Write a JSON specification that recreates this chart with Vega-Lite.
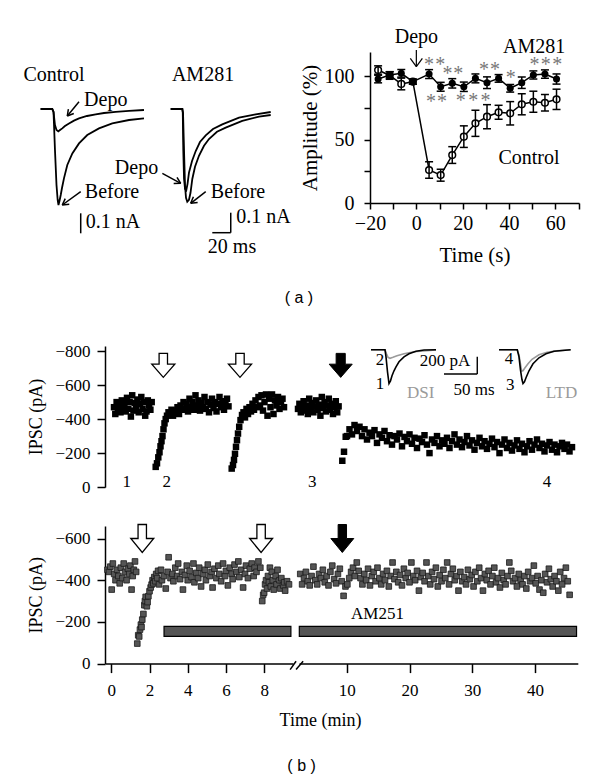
{
"$schema": "https://vega.github.io/schema/vega-lite/v6.json",
"background": "white",
"padding": {"left": 23, "top": 27, "right": 5, "bottom": 5},
"config": {
  "view": {"stroke": null},
  "font": "Liberation Serif",
  "axis": {"grid": false, "domainColor": "black", "tickColor": "black", "labelColor": "black", "titleColor": "black", "domainWidth": 1.5, "tickWidth": 1.5, "labelFont": "Liberation Serif", "titleFont": "Liberation Serif", "titleFontWeight": "normal", "labelFlush": false, "labelOverlap": false}
},
"title": {"text": "( b )", "orient": "bottom", "anchor": "middle", "font": "Liberation Sans", "fontSize": 16, "fontWeight": "normal", "offset": 28, "color": "black"},
"datasets": {
  "amp": [
    {"t":-16.5,"cond":"Control","amp":104.8,"lo":101.5,"hi":108.1},
    {"t":-11.5,"cond":"Control","amp":100.5,"lo":97.5,"hi":103.5},
    {"t":-6.5,"cond":"Control","amp":93.8,"lo":89.2,"hi":98.4},
    {"t":-1.5,"cond":"Control","amp":95.6,"lo":93.6,"hi":97.6},
    {"t":5.5,"cond":"Control","amp":26,"lo":19.5,"hi":32.5},
    {"t":10.5,"cond":"Control","amp":22,"lo":17.2,"hi":26.6},
    {"t":15.5,"cond":"Control","amp":37.8,"lo":31.2,"hi":44.4},
    {"t":20.5,"cond":"Control","amp":52.3,"lo":43.8,"hi":60.8},
    {"t":25.5,"cond":"Control","amp":62.8,"lo":52.5,"hi":73.1},
    {"t":30.5,"cond":"Control","amp":68,"lo":58.5,"hi":77.5},
    {"t":35.5,"cond":"Control","amp":71.5,"lo":66,"hi":77},
    {"t":40.5,"cond":"Control","amp":70.7,"lo":61.5,"hi":79.9},
    {"t":45.5,"cond":"Control","amp":77.8,"lo":69.5,"hi":86.1},
    {"t":50.5,"cond":"Control","amp":79.8,"lo":71.5,"hi":88.1},
    {"t":55.5,"cond":"Control","amp":79,"lo":72.5,"hi":85.5},
    {"t":60.5,"cond":"Control","amp":81.7,"lo":73.7,"hi":89.7},
    {"t":-16.5,"cond":"AM281","amp":97.7,"lo":94.7,"hi":100.7},
    {"t":-11.5,"cond":"AM281","amp":100.9,"lo":98.4,"hi":103.4},
    {"t":-6.5,"cond":"AM281","amp":102.2,"lo":99.2,"hi":105.2},
    {"t":-1.5,"cond":"AM281","amp":95.6,"lo":93.6,"hi":97.6},
    {"t":5.5,"cond":"AM281","amp":101.6,"lo":98.1,"hi":105.1},
    {"t":10.5,"cond":"AM281","amp":91.6,"lo":88.1,"hi":95.1},
    {"t":15.5,"cond":"AM281","amp":94.3,"lo":90.6,"hi":98},
    {"t":20.5,"cond":"AM281","amp":91.6,"lo":87.9,"hi":95.3},
    {"t":25.5,"cond":"AM281","amp":98.2,"lo":94.7,"hi":101.7},
    {"t":30.5,"cond":"AM281","amp":94.8,"lo":90.2,"hi":99.4},
    {"t":35.5,"cond":"AM281","amp":98.2,"lo":95.2,"hi":101.2},
    {"t":40.5,"cond":"AM281","amp":90.4,"lo":87.4,"hi":93.4},
    {"t":45.5,"cond":"AM281","amp":94.8,"lo":90.3,"hi":99.3},
    {"t":50.5,"cond":"AM281","amp":100.9,"lo":97.7,"hi":104.1},
    {"t":55.5,"cond":"AM281","amp":101.6,"lo":98.3,"hi":104.9},
    {"t":60.5,"cond":"AM281","amp":97.7,"lo":93.7,"hi":101.7}
  ],
  "stars": [
    {"t":5.5,"amp":111},{"t":10.3,"amp":111},{"t":13.4,"amp":104},{"t":18.1,"amp":104},
    {"t":29.2,"amp":107.4},{"t":34,"amp":107.4},{"t":40.7,"amp":101},
    {"t":51,"amp":111},{"t":55.8,"amp":111},{"t":60.8,"amp":111},
    {"t":6.3,"amp":82},{"t":11.1,"amp":82},{"t":19.2,"amp":83},{"t":24.6,"amp":83},{"t":29.9,"amp":83}
  ],
  "ampLabels": [
    {"t":50.8,"amp":123.2,"label":"AM281"},
    {"t":48.6,"amp":35.2,"label":"Control"},
    {"t":0,"amp":130.8,"label":"Depo"}
  ],
  "ampSegs": [
    {"t":0,"amp":120.6,"t2":0,"amp2":107.4},
    {"t":-2.6,"amp":114,"t2":0,"amp2":107.4},
    {"t":2.6,"amp":114,"t2":0,"amp2":107.4}
  ],
  "traces": [
    {"trace":"CB","ms":-12.6,"nA":0},{"trace":"CB","ms":0.3,"nA":0},{"trace":"CB","ms":1.7,"nA":-0.015},{"trace":"CB","ms":3.3,"nA":-0.205},{"trace":"CB","ms":5,"nA":-0.38},{"trace":"CB","ms":6.3,"nA":-0.455},{"trace":"CB","ms":7.2,"nA":-0.48},{"trace":"CB","ms":8.3,"nA":-0.46},{"trace":"CB","ms":9.7,"nA":-0.43},{"trace":"CB","ms":11.1,"nA":-0.395},{"trace":"CB","ms":13.3,"nA":-0.347},{"trace":"CB","ms":17,"nA":-0.28},{"trace":"CB","ms":22.6,"nA":-0.222},{"trace":"CB","ms":30,"nA":-0.172},{"trace":"CB","ms":39.2,"nA":-0.13},{"trace":"CB","ms":52.2,"nA":-0.097},{"trace":"CB","ms":67,"nA":-0.072},{"trace":"CB","ms":85.6,"nA":-0.055},{"trace":"CB","ms":102.2,"nA":-0.047},
    {"trace":"CD","ms":-12.6,"nA":0},{"trace":"CD","ms":0.3,"nA":0},{"trace":"CD","ms":1.7,"nA":-0.015},{"trace":"CD","ms":3.3,"nA":-0.08},{"trace":"CD","ms":5,"nA":-0.105},{"trace":"CD","ms":7,"nA":-0.112},{"trace":"CD","ms":8.9,"nA":-0.105},{"trace":"CD","ms":11.4,"nA":-0.097},{"trace":"CD","ms":14.4,"nA":-0.085},{"trace":"CD","ms":18.9,"nA":-0.072},{"trace":"CD","ms":24.4,"nA":-0.058},{"trace":"CD","ms":30,"nA":-0.047},{"trace":"CD","ms":38.9,"nA":-0.035},{"trace":"CD","ms":48.6,"nA":-0.027},{"trace":"CD","ms":57.8,"nA":-0.02},{"trace":"CD","ms":70.8,"nA":-0.014},{"trace":"CD","ms":85.6,"nA":-0.009},{"trace":"CD","ms":102.2,"nA":-0.005},
    {"trace":"AB","ms":131.9,"nA":0},{"trace":"AB","ms":144.8,"nA":0},{"trace":"AB","ms":145.6,"nA":-0.019},{"trace":"AB","ms":146.7,"nA":-0.209},{"trace":"AB","ms":147.8,"nA":-0.384},{"trace":"AB","ms":148.9,"nA":-0.444},{"trace":"AB","ms":150.3,"nA":-0.464},{"trace":"AB","ms":152.2,"nA":-0.454},{"trace":"AB","ms":153.9,"nA":-0.419},{"trace":"AB","ms":155.9,"nA":-0.35},{"trace":"AB","ms":158.9,"nA":-0.289},{"trace":"AB","ms":163.3,"nA":-0.234},{"trace":"AB","ms":168.9,"nA":-0.184},{"trace":"AB","ms":174.4,"nA":-0.15},{"trace":"AB","ms":183.3,"nA":-0.114},{"trace":"AB","ms":193,"nA":-0.093},{"trace":"AB","ms":211.4,"nA":-0.059},{"trace":"AB","ms":230,"nA":-0.038},{"trace":"AB","ms":243,"nA":-0.03},
    {"trace":"AD","ms":131.9,"nA":0},{"trace":"AD","ms":144.8,"nA":0},{"trace":"AD","ms":145.3,"nA":-0.019},{"trace":"AD","ms":145.9,"nA":-0.209},{"trace":"AD","ms":146.7,"nA":-0.349},{"trace":"AD","ms":147.8,"nA":-0.399},{"trace":"AD","ms":149.2,"nA":-0.406},{"trace":"AD","ms":150.6,"nA":-0.374},{"trace":"AD","ms":152.2,"nA":-0.318},{"trace":"AD","ms":155.6,"nA":-0.26},{"trace":"AD","ms":159.7,"nA":-0.21},{"trace":"AD","ms":164.4,"nA":-0.165},{"trace":"AD","ms":170.8,"nA":-0.132},{"trace":"AD","ms":178.9,"nA":-0.1},{"trace":"AD","ms":189.2,"nA":-0.077},{"trace":"AD","ms":207.8,"nA":-0.043},{"trace":"AD","ms":226.3,"nA":-0.027},{"trace":"AD","ms":243,"nA":-0.015}
  ],
  "traceSegs": [
    {"ms":30,"nA":0.0365,"ms2":17,"nA2":-0.035},{"ms":24.2,"nA":-0.0225,"ms2":17,"nA2":-0.035},{"ms":18.2,"nA":-0.0005,"ms2":17,"nA2":-0.035},
    {"ms":31.9,"nA":-0.4135,"ms2":11.4,"nA2":-0.48},{"ms":19.2,"nA":-0.4765,"ms2":11.4,"nA2":-0.48},{"ms":14.7,"nA":-0.448,"ms2":11.4,"nA2":-0.48},
    {"ms":122.6,"nA":-0.3215,"ms2":143,"nA2":-0.3715},{"ms":138.9,"nA":-0.3415,"ms2":143,"nA2":-0.3715},{"ms":135.2,"nA":-0.3725,"ms2":143,"nA2":-0.3715},
    {"ms":170.8,"nA":-0.4135,"ms2":154.1,"nA2":-0.4715},{"ms":161.8,"nA":-0.467,"ms2":154.1,"nA2":-0.4715},{"ms":157.1,"nA":-0.439,"ms2":154.1,"nA2":-0.4715},
    {"ms":31.9,"nA":-0.5215,"ms2":31.9,"nA2":-0.6215},
    {"ms":198.6,"nA":-0.5185,"ms2":198.6,"nA2":-0.6185},{"ms":178.1,"nA":-0.6185,"ms2":198.6,"nA2":-0.6185}
  ],
  "traceLabels": [
    {"ms":2.2,"nA":0.17,"label":"Control"},
    {"ms":167.8,"nA":0.17,"label":"AM281"},
    {"ms":59.7,"nA":0.045,"label":"Depo"},
    {"ms":66.7,"nA":-0.4135,"label":"Before"},
    {"ms":93.9,"nA":-0.2965,"label":"Depo"},
    {"ms":206.7,"nA":-0.4135,"label":"Before"},
    {"ms":200,"nA":-0.69,"label":"20 ms"}
  ],
  "traceLabelsLeft": [
    {"ms":37.4,"nA":-0.5635,"label":"0.1 nA"},
    {"ms":204.8,"nA":-0.5385,"label":"0.1 nA"}
  ],
  "top": [
    {"t":0.9,"p":-470},{"t":1.03,"p":-430},{"t":1.16,"p":-500},{"t":1.29,"p":-455},{"t":1.42,"p":-480},{"t":1.55,"p":-440},{"t":1.68,"p":-510},{"t":1.81,"p":-470},{"t":1.94,"p":-490},{"t":2.07,"p":-445},{"t":2.2,"p":-525},{"t":2.33,"p":-460},{"t":2.46,"p":-500},{"t":2.59,"p":-415},{"t":2.72,"p":-540},{"t":2.85,"p":-450},{"t":2.98,"p":-495},{"t":3.11,"p":-470},{"t":3.24,"p":-515},{"t":3.37,"p":-440},{"t":3.5,"p":-490},{"t":3.63,"p":-530},{"t":3.76,"p":-460},{"t":3.89,"p":-500},{"t":4.02,"p":-420},{"t":4.15,"p":-445},{"t":4.28,"p":-510},{"t":4.41,"p":-480},{"t":4.54,"p":-455},{"t":4.67,"p":-500},
    {"t":5.07,"p":-119},{"t":5.2,"p":-140},{"t":5.33,"p":-175},{"t":5.45,"p":-205},{"t":5.55,"p":-240},{"t":5.65,"p":-270},{"t":5.75,"p":-300},{"t":5.85,"p":-340},{"t":5.95,"p":-375},{"t":6.07,"p":-400},{"t":6.2,"p":-420},{"t":6.35,"p":-440},{"t":6.5,"p":-425},{"t":6.65,"p":-455},
    {"t":6.8,"p":-420},{"t":6.95,"p":-450},{"t":7.1,"p":-440},{"t":7.25,"p":-470},{"t":7.4,"p":-430},{"t":7.55,"p":-480},{"t":7.7,"p":-455},{"t":7.85,"p":-500},{"t":8.0,"p":-460},{"t":8.15,"p":-490},{"t":8.3,"p":-445},{"t":8.45,"p":-520},{"t":8.6,"p":-470},{"t":8.75,"p":-500},{"t":8.9,"p":-455},{"t":9.05,"p":-540},{"t":9.2,"p":-480},{"t":9.35,"p":-510},{"t":9.5,"p":-450},{"t":9.65,"p":-495},{"t":9.8,"p":-470},{"t":9.95,"p":-530},{"t":10.1,"p":-460},{"t":10.25,"p":-500},{"t":10.4,"p":-440},{"t":10.55,"p":-485},{"t":10.7,"p":-520},{"t":10.85,"p":-465},{"t":11.0,"p":-500},{"t":11.15,"p":-445},{"t":11.3,"p":-490},{"t":11.45,"p":-530},{"t":11.6,"p":-470},{"t":11.75,"p":-505},{"t":11.9,"p":-455},{"t":12.05,"p":-490},{"t":12.2,"p":-520},{"t":12.35,"p":-475},
    {"t":12.67,"p":-109},{"t":12.8,"p":-130},{"t":12.9,"p":-160},{"t":13.0,"p":-196},{"t":13.1,"p":-237},{"t":13.2,"p":-276},{"t":13.3,"p":-315},{"t":13.42,"p":-355},{"t":13.55,"p":-394},{"t":13.7,"p":-424},{"t":13.85,"p":-440},{"t":14.0,"p":-410},
    {"t":14.15,"p":-460},{"t":14.3,"p":-430},{"t":14.45,"p":-470},{"t":14.6,"p":-445},{"t":14.75,"p":-490},{"t":14.9,"p":-455},{"t":15.05,"p":-510},{"t":15.2,"p":-470},{"t":15.35,"p":-530},{"t":15.5,"p":-480},{"t":15.65,"p":-540},{"t":15.8,"p":-450},{"t":15.95,"p":-500},{"t":16.1,"p":-545},{"t":16.25,"p":-420},{"t":16.4,"p":-520},{"t":16.55,"p":-470},{"t":16.7,"p":-545},{"t":16.85,"p":-430},{"t":17.0,"p":-510},{"t":17.15,"p":-480},{"t":17.3,"p":-530},{"t":17.45,"p":-460},{"t":17.6,"p":-500},{"t":17.75,"p":-520},{"t":17.9,"p":-470},
    {"t":19.3,"p":-460},{"t":19.44,"p":-490},{"t":19.58,"p":-440},{"t":19.72,"p":-470},{"t":19.86,"p":-505},{"t":20.0,"p":-450},{"t":20.14,"p":-480},{"t":20.28,"p":-430},{"t":20.42,"p":-520},{"t":20.56,"p":-460},{"t":20.7,"p":-495},{"t":20.84,"p":-440},{"t":20.98,"p":-475},{"t":21.12,"p":-510},{"t":21.26,"p":-455},{"t":21.4,"p":-485},{"t":21.54,"p":-420},{"t":21.68,"p":-530},{"t":21.82,"p":-465},{"t":21.96,"p":-500},{"t":22.1,"p":-445},{"t":22.24,"p":-480},{"t":22.38,"p":-520},{"t":22.52,"p":-455},{"t":22.66,"p":-490},{"t":22.8,"p":-430},{"t":22.94,"p":-470},{"t":23.08,"p":-505},{"t":23.22,"p":-440},{"t":23.36,"p":-475},
    {"t":23.73,"p":-155},{"t":23.9,"p":-208},{"t":24.07,"p":-296},
    {"t":24.2,"p":-300},{"t":24.45,"p":-340},{"t":24.7,"p":-310},{"t":24.95,"p":-365},{"t":25.2,"p":-330},{"t":25.45,"p":-355},{"t":25.7,"p":-300},{"t":25.95,"p":-340},{"t":26.2,"p":-280},{"t":26.45,"p":-320},{"t":26.7,"p":-300},{"t":26.95,"p":-335},{"t":27.2,"p":-260},{"t":27.45,"p":-310},{"t":27.7,"p":-290},{"t":27.95,"p":-330},{"t":28.2,"p":-270},{"t":28.45,"p":-305},{"t":28.7,"p":-250},{"t":28.95,"p":-300},{"t":29.2,"p":-280},{"t":29.45,"p":-315},{"t":29.7,"p":-240},{"t":29.95,"p":-295},{"t":30.2,"p":-270},{"t":30.45,"p":-310},{"t":30.7,"p":-255},{"t":30.95,"p":-290},{"t":31.2,"p":-230},{"t":31.45,"p":-285},{"t":31.7,"p":-265},{"t":31.95,"p":-305},{"t":32.2,"p":-250},{"t":32.45,"p":-200},{"t":32.7,"p":-280},{"t":32.95,"p":-260},{"t":33.2,"p":-300},{"t":33.45,"p":-240},{"t":33.7,"p":-275},{"t":33.95,"p":-255},{"t":34.2,"p":-290},{"t":34.45,"p":-230},{"t":34.7,"p":-270},{"t":34.95,"p":-310},{"t":35.2,"p":-250},{"t":35.45,"p":-280},{"t":35.7,"p":-235},{"t":35.95,"p":-265},{"t":36.2,"p":-300},{"t":36.45,"p":-245},{"t":36.7,"p":-275},{"t":36.95,"p":-220},{"t":37.2,"p":-260},{"t":37.45,"p":-290},{"t":37.7,"p":-240},{"t":37.95,"p":-270},{"t":38.2,"p":-225},{"t":38.45,"p":-255},{"t":38.7,"p":-285},{"t":38.95,"p":-235},{"t":39.2,"p":-265},{"t":39.45,"p":-200},{"t":39.7,"p":-250},{"t":39.95,"p":-280},{"t":40.2,"p":-230},{"t":40.45,"p":-260},{"t":40.7,"p":-215},{"t":40.95,"p":-245},{"t":41.2,"p":-275},{"t":41.45,"p":-225},{"t":41.7,"p":-255},{"t":41.95,"p":-205},{"t":42.2,"p":-240},{"t":42.45,"p":-270},{"t":42.7,"p":-220},{"t":42.95,"p":-250},{"t":43.2,"p":-280},{"t":43.45,"p":-230},{"t":43.7,"p":-255},{"t":43.95,"p":-210},{"t":44.2,"p":-245},{"t":44.45,"p":-265},{"t":44.7,"p":-220},{"t":44.95,"p":-250},{"t":45.2,"p":-205},{"t":45.45,"p":-240},{"t":45.7,"p":-260},{"t":45.95,"p":-225},{"t":46.2,"p":-250},{"t":46.45,"p":-210},{"t":46.7,"p":-235}
  ],
  "topArrows": [
    {"kind":"open","t":5.83,"p":-716},{"kind":"open","t":13.5,"p":-716},{"kind":"black","t":23.57,"p":-716}
  ],
  "topNums": [
    {"t":2.17,"p":-31,"label":"1"},{"t":6.17,"p":-31,"label":"2"},{"t":20.73,"p":-31,"label":"3"},{"t":44.2,"p":-31,"label":"4"}
  ],
  "inset": [
    {"sweep":"2","ms":-27,"v":0},{"sweep":"2","ms":-6,"v":0},{"sweep":"2","ms":-3.75,"v":-46},{"sweep":"2","ms":-1.5,"v":-87},{"sweep":"2","ms":1.5,"v":-98},{"sweep":"2","ms":6,"v":-87},{"sweep":"2","ms":12,"v":-69},{"sweep":"2","ms":22.5,"v":-46},{"sweep":"2","ms":37.5,"v":-23},{"sweep":"2","ms":70.5,"v":-3},
    {"sweep":"1","ms":-27,"v":0},{"sweep":"1","ms":-6,"v":0},{"sweep":"1","ms":-4.5,"v":-81},{"sweep":"1","ms":-2.25,"v":-254},{"sweep":"1","ms":0,"v":-389},{"sweep":"1","ms":2.25,"v":-358},{"sweep":"1","ms":4.5,"v":-300},{"sweep":"1","ms":7.5,"v":-242},{"sweep":"1","ms":10.5,"v":-196},{"sweep":"1","ms":15,"v":-138},{"sweep":"1","ms":22.5,"v":-81},{"sweep":"1","ms":30,"v":-46},{"sweep":"1","ms":40.5,"v":-17},{"sweep":"1","ms":52.5,"v":-3},{"sweep":"1","ms":70.5,"v":0},
    {"sweep":"4","ms":165,"v":0},{"sweep":"4","ms":192.4,"v":0},{"sweep":"4","ms":195,"v":-58},{"sweep":"4","ms":197.2,"v":-161},{"sweep":"4","ms":199,"v":-246},{"sweep":"4","ms":201,"v":-242},{"sweep":"4","ms":204,"v":-208},{"sweep":"4","ms":208.5,"v":-161},{"sweep":"4","ms":214.5,"v":-110},{"sweep":"4","ms":225,"v":-58},{"sweep":"4","ms":237,"v":-29},{"sweep":"4","ms":252,"v":-12},{"sweep":"4","ms":272.5,"v":0},
    {"sweep":"3","ms":165,"v":0},{"sweep":"3","ms":192.4,"v":0},{"sweep":"3","ms":195,"v":-81},{"sweep":"3","ms":197.2,"v":-231},{"sweep":"3","ms":199.5,"v":-346},{"sweep":"3","ms":201,"v":-389},{"sweep":"3","ms":203.2,"v":-369},{"sweep":"3","ms":205.5,"v":-323},{"sweep":"3","ms":210,"v":-242},{"sweep":"3","ms":216,"v":-161},{"sweep":"3","ms":225,"v":-92},{"sweep":"3","ms":235.5,"v":-46},{"sweep":"3","ms":247.5,"v":-17},{"sweep":"3","ms":272.5,"v":0}
  ],
  "insetSegs": [
    {"ms":82.5,"v":-280,"ms2":132.4,"v2":-280},{"ms":132.4,"v":-81,"ms2":132.4,"v2":-280}
  ],
  "insetLabels": [
    {"ms":-13.5,"v":-121,"label":"2","grey":false},{"ms":-13.5,"v":-400,"label":"1","grey":false},
    {"ms":84,"v":-127,"label":"200 pA","grey":false},{"ms":127.5,"v":-461,"label":"50 ms","grey":false},
    {"ms":180,"v":-104,"label":"4","grey":false},{"ms":182,"v":-410,"label":"3","grey":false},
    {"ms":47.5,"v":-496,"label":"DSI","grey":true},{"ms":258.7,"v":-496,"label":"LTD","grey":true}
  ],
  "botL": [
    {"t":-0.2,"p":-450},{"t":-0.12,"p":-440},{"t":-0.05,"p":-465},{"t":0.02,"p":-355},{"t":0.08,"p":-480},{"t":0.15,"p":-430},{"t":0.22,"p":-400},{"t":0.3,"p":-450},{"t":0.37,"p":-420},{"t":0.44,"p":-385},{"t":0.5,"p":-460},{"t":0.58,"p":-410},{"t":0.65,"p":-480},{"t":0.72,"p":-440},{"t":0.8,"p":-400},{"t":0.87,"p":-455},{"t":0.94,"p":-430},{"t":1.0,"p":-470},{"t":1.06,"p":-355},{"t":1.12,"p":-420},{"t":1.18,"p":-450},{"t":1.24,"p":-490},{"t":1.3,"p":-440},
    {"t":1.36,"p":-96},{"t":1.41,"p":-136},{"t":1.46,"p":-130},{"t":1.5,"p":-163},{"t":1.55,"p":-187},{"t":1.58,"p":-175},{"t":1.62,"p":-211},{"t":1.68,"p":-238},{"t":1.73,"p":-280},{"t":1.76,"p":-300},{"t":1.8,"p":-320},{"t":1.86,"p":-275},{"t":1.9,"p":-295},{"t":1.94,"p":-323},{"t":2.0,"p":-347},{"t":2.06,"p":-365},{"t":2.11,"p":-379},{"t":2.16,"p":-400},{"t":2.2,"p":-385},{"t":2.25,"p":-415},{"t":2.3,"p":-395},{"t":2.35,"p":-430},{"t":2.4,"p":-410},{"t":2.45,"p":-445},
    {"t":2.5,"p":-380},{"t":2.6,"p":-450},{"t":2.65,"p":-400},{"t":2.75,"p":-420},{"t":2.85,"p":-360},{"t":2.95,"p":-440},{"t":3.0,"p":-510},{"t":3.1,"p":-410},{"t":3.2,"p":-430},{"t":3.25,"p":-395},{"t":3.35,"p":-460},{"t":3.45,"p":-420},{"t":3.5,"p":-480},{"t":3.6,"p":-405},{"t":3.7,"p":-440},{"t":3.75,"p":-355},{"t":3.85,"p":-425},{"t":3.95,"p":-470},{"t":4.0,"p":-400},{"t":4.1,"p":-445},{"t":4.2,"p":-415},{"t":4.3,"p":-480},{"t":4.35,"p":-390},{"t":4.45,"p":-435},{"t":4.55,"p":-410},{"t":4.6,"p":-460},{"t":4.7,"p":-370},{"t":4.8,"p":-430},{"t":4.9,"p":-450},{"t":4.95,"p":-400},{"t":5.05,"p":-475},{"t":5.15,"p":-420},{"t":5.25,"p":-440},{"t":5.3,"p":-365},{"t":5.4,"p":-455},{"t":5.5,"p":-410},{"t":5.6,"p":-470},{"t":5.65,"p":-430},{"t":5.75,"p":-395},{"t":5.85,"p":-480},{"t":5.95,"p":-420},{"t":6.0,"p":-445},{"t":6.1,"p":-375},{"t":6.2,"p":-460},{"t":6.3,"p":-430},{"t":6.35,"p":-405},{"t":6.45,"p":-475},{"t":6.55,"p":-440},{"t":6.65,"p":-490},{"t":6.7,"p":-415},{"t":6.8,"p":-450},{"t":6.9,"p":-365},{"t":7.0,"p":-430},{"t":7.05,"p":-470},{"t":7.15,"p":-410},{"t":7.25,"p":-455},{"t":7.35,"p":-480},{"t":7.45,"p":-420},{"t":7.5,"p":-460},{"t":7.6,"p":-440},
    {"t":7.7,"p":-490},{"t":7.8,"p":-460},{"t":7.9,"p":-300},{"t":7.95,"p":-330},{"t":8.0,"p":-340},{"t":8.05,"p":-380},{"t":8.1,"p":-400},{"t":8.15,"p":-360},{"t":8.2,"p":-420},{"t":8.25,"p":-390},{"t":8.3,"p":-460},{"t":8.35,"p":-370},{"t":8.4,"p":-440},{"t":8.45,"p":-400},{"t":8.5,"p":-355},{"t":8.6,"p":-420},{"t":8.65,"p":-380},{"t":8.7,"p":-450},{"t":8.8,"p":-400},{"t":8.85,"p":-360},{"t":8.9,"p":-410},{"t":9.0,"p":-375},{"t":9.05,"p":-390},{"t":9.1,"p":-350},{"t":9.2,"p":-395},{"t":9.3,"p":-380}
  ],
  "botR": [
    {"t":2.6,"p":-430},{"t":2.9,"p":-380},{"t":3.2,"p":-410},{"t":3.5,"p":-440},{"t":3.8,"p":-395},{"t":4.1,"p":-375},{"t":4.4,"p":-420},{"t":4.7,"p":-465},{"t":5.0,"p":-400},{"t":5.3,"p":-380},{"t":5.6,"p":-430},{"t":5.9,"p":-410},{"t":6.2,"p":-450},{"t":6.5,"p":-390},{"t":6.8,"p":-420},{"t":7.1,"p":-375},{"t":7.4,"p":-440},{"t":7.7,"p":-470},{"t":8.0,"p":-405},{"t":8.3,"p":-385},{"t":8.6,"p":-430},{"t":8.9,"p":-455},{"t":9.2,"p":-395},{"t":9.5,"p":-325},{"t":9.8,"p":-370},{"t":10.1,"p":-380},{"t":10.4,"p":-410},{"t":10.7,"p":-440},{"t":11.0,"p":-460},{"t":11.3,"p":-420},{"t":11.6,"p":-485},{"t":11.9,"p":-445},{"t":12.2,"p":-410},{"t":12.5,"p":-380},{"t":12.8,"p":-430},{"t":13.1,"p":-400},{"t":13.4,"p":-455},{"t":13.7,"p":-375},{"t":14.0,"p":-420},{"t":14.3,"p":-440},{"t":14.6,"p":-395},{"t":14.9,"p":-460},{"t":15.2,"p":-410},{"t":15.5,"p":-380},{"t":15.8,"p":-430},{"t":16.1,"p":-400},{"t":16.4,"p":-445},{"t":16.7,"p":-370},{"t":17.0,"p":-420},{"t":17.3,"p":-485},{"t":17.6,"p":-405},{"t":17.9,"p":-440},{"t":18.2,"p":-390},{"t":18.5,"p":-425},{"t":18.8,"p":-375},{"t":19.1,"p":-455},{"t":19.4,"p":-410},{"t":19.7,"p":-435},{"t":20.0,"p":-390},{"t":20.3,"p":-485},{"t":20.6,"p":-420},{"t":20.9,"p":-400},{"t":21.2,"p":-445},{"t":21.5,"p":-350},{"t":21.8,"p":-415},{"t":22.1,"p":-435},{"t":22.4,"p":-395},{"t":22.7,"p":-485},{"t":23.0,"p":-420},{"t":23.3,"p":-380},{"t":23.6,"p":-440},{"t":23.9,"p":-405},{"t":24.2,"p":-460},{"t":24.5,"p":-370},{"t":24.8,"p":-425},{"t":25.1,"p":-395},{"t":25.4,"p":-450},{"t":25.7,"p":-410},{"t":26.0,"p":-485},{"t":26.3,"p":-380},{"t":26.6,"p":-430},{"t":26.9,"p":-455},{"t":27.2,"p":-400},{"t":27.5,"p":-420},{"t":27.8,"p":-350},{"t":28.1,"p":-440},{"t":28.4,"p":-395},{"t":28.7,"p":-415},{"t":29.0,"p":-380},{"t":29.3,"p":-450},{"t":29.6,"p":-405},{"t":29.9,"p":-425},{"t":30.2,"p":-370},{"t":30.5,"p":-440},{"t":30.8,"p":-395},{"t":31.1,"p":-460},{"t":31.4,"p":-410},{"t":31.7,"p":-350},{"t":32.0,"p":-430},{"t":32.3,"p":-400},{"t":32.6,"p":-445},{"t":32.9,"p":-380},{"t":33.2,"p":-420},{"t":33.5,"p":-460},{"t":33.8,"p":-390},{"t":34.1,"p":-410},{"t":34.4,"p":-365},{"t":34.7,"p":-435},{"t":35.0,"p":-400},{"t":35.3,"p":-380},{"t":35.6,"p":-420},{"t":35.9,"p":-485},{"t":36.2,"p":-445},{"t":36.5,"p":-395},{"t":36.8,"p":-410},{"t":37.1,"p":-370},{"t":37.4,"p":-430},{"t":37.7,"p":-400},{"t":38.0,"p":-380},{"t":38.3,"p":-420},{"t":38.6,"p":-360},{"t":38.9,"p":-440},{"t":39.2,"p":-395},{"t":39.5,"p":-410},{"t":39.8,"p":-470},{"t":40.1,"p":-385},{"t":40.4,"p":-420},{"t":40.7,"p":-355},{"t":41.0,"p":-400},{"t":41.3,"p":-340},{"t":41.6,"p":-430},{"t":41.9,"p":-390},{"t":42.2,"p":-455},{"t":42.5,"p":-405},{"t":42.8,"p":-370},{"t":43.1,"p":-420},{"t":43.4,"p":-395},{"t":43.7,"p":-350},{"t":44.0,"p":-440},{"t":44.3,"p":-380},{"t":44.6,"p":-410},{"t":44.9,"p":-460},{"t":45.2,"p":-395},{"t":45.5,"p":-330}
  ],
  "bars": [
    {"seg":"L","t":2.76,"t2":9.4,"p":-131,"p2":-179},
    {"seg":"R","t":2.45,"t2":46.6,"p":-131,"p2":-179}
  ],
  "botArrows": [
    {"seg":"L","kind":"open","t":1.62,"p":-600},
    {"seg":"L","kind":"open","t":7.84,"p":-600},
    {"seg":"R","kind":"black","t":9.3,"p":-600}
  ],
  "breaks": [
    {"t":9.36,"p":28.8,"t2":9.67,"p2":-11},
    {"t":9.67,"p":28.8,"t2":10.04,"p2":-11}
  ]
},
"spacing": 35,
"vconcat": [
  {
    "width": 474, "height": 151,
    "resolve": {"scale": {"x": "independent", "y": "independent"}},
    "layer": [
      {
        "encoding": {
          "x": {"field": "t", "type": "quantitative", "scale": {"domain": [-20, 70.2], "range": [265, 474], "nice": false, "zero": false},
                "axis": {"values": [-20,-10,0,10,20,30,40,50,60,70], "labelExpr": "datum.value % 20 === 0 ? datum.label : ''", "title": "Time (s)", "labelFontSize": 20, "titleFontSize": 21, "tickSize": 6, "labelPadding": 4, "titlePadding": 11}},
          "y": {"field": "amp", "type": "quantitative", "scale": {"domain": [0, 119], "nice": false, "zero": false},
                "axis": {"offset": -265, "values": [0,25,50,75,100], "labelExpr": "datum.value % 50 === 0 ? datum.label : ''", "title": "Amplitude (%)", "labelFontSize": 20, "titleFontSize": 21, "tickSize": 6, "labelPadding": 10, "titlePadding": 4}}
        },
        "layer": [
          {"data": {"name": "amp"}, "transform": [{"filter": "datum.cond === 'Control'"}], "mark": {"type": "line", "color": "black", "strokeWidth": 1.5}},
          {"data": {"name": "amp"}, "transform": [{"filter": "datum.cond === 'AM281'"}], "mark": {"type": "line", "color": "black", "strokeWidth": 1.5}},
          {"data": {"name": "amp"}, "transform": [{"filter": "datum.cond === 'Control'"}], "mark": {"type": "point", "shape": "circle", "filled": true, "fill": "white", "stroke": "black", "strokeWidth": 1.5, "size": 45, "opacity": 1}},
          {"data": {"name": "amp"}, "mark": {"type": "rule", "color": "black", "strokeWidth": 1.5}, "encoding": {"y": {"field": "lo", "type": "quantitative", "title": "Amplitude (%)"}, "y2": {"field": "hi"}}},
          {"data": {"name": "amp"}, "mark": {"type": "tick", "orient": "horizontal", "size": 8, "thickness": 1.5, "color": "black", "opacity": 1}, "encoding": {"y": {"field": "lo", "type": "quantitative", "title": "Amplitude (%)"}}},
          {"data": {"name": "amp"}, "mark": {"type": "tick", "orient": "horizontal", "size": 8, "thickness": 1.5, "color": "black", "opacity": 1}, "encoding": {"y": {"field": "hi", "type": "quantitative", "title": "Amplitude (%)"}}},
          {"data": {"name": "amp"}, "transform": [{"filter": "datum.cond === 'AM281'"}], "mark": {"type": "point", "shape": "circle", "filled": true, "color": "black", "size": 50, "opacity": 1}},
          {"data": {"name": "stars"}, "mark": {"type": "text", "text": "*", "font": "Liberation Serif", "fontSize": 20, "color": "#777", "baseline": "alphabetic", "dy": 9}},
          {"data": {"name": "ampLabels"}, "mark": {"type": "text", "font": "Liberation Serif", "fontSize": 20, "color": "black", "baseline": "middle"}, "encoding": {"text": {"field": "label"}}},
          {"data": {"name": "ampSegs"}, "mark": {"type": "rule", "color": "black", "strokeWidth": 1.2}, "encoding": {"x2": {"field": "t2"}, "y2": {"field": "amp2"}}}
        ]
      },
      {
        "encoding": {
          "x": {"field": "ms", "type": "quantitative", "scale": {"domain": [58.89, 585.56], "nice": false, "zero": false}, "axis": null},
          "y": {"field": "nA", "type": "quantitative", "scale": {"domain": [-0.47, 0.285], "nice": false, "zero": false}, "axis": null}
        },
        "layer": [
          {"data": {"name": "traces"}, "mark": {"type": "line", "color": "black", "strokeWidth": 1.8}, "encoding": {"detail": {"field": "trace"}}},
          {"data": {"name": "traceSegs"}, "mark": {"type": "rule", "color": "black", "strokeWidth": 1.5}, "encoding": {"x2": {"field": "ms2"}, "y2": {"field": "nA2"}}},
          {"data": {"name": "traceLabels"}, "mark": {"type": "text", "font": "Liberation Serif", "fontSize": 20, "color": "black", "baseline": "middle", "align": "center"}, "encoding": {"text": {"field": "label"}}},
          {"data": {"name": "traceLabelsLeft"}, "mark": {"type": "text", "font": "Liberation Serif", "fontSize": 20, "color": "black", "baseline": "middle", "align": "left"}, "encoding": {"text": {"field": "label"}}},
          {"data": {"values": [{"ms": 274.4, "nA": -0.945, "label": "( a )"}]}, "mark": {"type": "text", "font": "Liberation Sans", "fontSize": 16, "color": "black", "baseline": "middle", "align": "center"}, "encoding": {"text": {"field": "label"}}}
        ]
      }
    ]
  },
  {
    "spacing": 25,
    "vconcat": [
      {
        "width": 472, "height": 141.1,
        "resolve": {"scale": {"x": "independent", "y": "independent"}},
        "layer": [
          {
            "encoding": {
              "x": {"field": "t", "type": "quantitative", "scale": {"domain": [0, 47.2], "nice": false, "zero": false}, "axis": null},
              "y": {"field": "p", "type": "quantitative", "scale": {"domain": [0, -830], "nice": false, "zero": false},
                    "axis": {"values": [0,-200,-400,-600,-800], "title": "IPSC (pA)", "labelFontSize": 17, "titleFontSize": 18, "tickSize": 8, "labelPadding": 7, "titlePadding": 9}}
            },
            "layer": [
              {"mark": {"type": "rule", "strokeDash": [6, 4], "strokeWidth": 1.5, "color": "black"}, "encoding": {"x": {"datum": 0, "type": "quantitative"}, "x2": {"datum": 46.6}, "y": {"datum": -478, "type": "quantitative"}}},
              {"data": {"name": "top"}, "mark": {"type": "point", "shape": "square", "filled": true, "color": "black", "size": 42, "opacity": 1}},
              {"data": {"name": "topArrows"}, "transform": [{"filter": "datum.kind === 'open'"}], "mark": {"type": "point", "shape": "M -0.35 -1 L 0.35 -1 L 0.35 -0.1 L 0.96 -0.1 L 0 1 L -0.96 -0.1 L -0.35 -0.1 Z", "filled": true, "fill": "white", "stroke": "black", "strokeWidth": 1.3, "size": 576, "opacity": 1}},
              {"data": {"name": "topArrows"}, "transform": [{"filter": "datum.kind === 'black'"}], "mark": {"type": "point", "shape": "M -0.38 -1 L 0.38 -1 L 0.38 -0.1 L 0.96 -0.1 L 0 1 L -0.96 -0.1 L -0.38 -0.1 Z", "filled": true, "fill": "black", "stroke": "black", "strokeWidth": 1, "size": 576, "opacity": 1}},
              {"data": {"name": "topNums"}, "mark": {"type": "text", "font": "Liberation Serif", "fontSize": 17, "color": "black", "baseline": "middle"}, "encoding": {"text": {"field": "label"}}}
            ]
          },
          {
            "encoding": {
              "x": {"field": "ms", "type": "quantitative", "scale": {"domain": [-426, 282], "nice": false, "zero": false}, "axis": null},
              "y": {"field": "v", "type": "quantitative", "scale": {"domain": [-1583.6, 43.8], "nice": false, "zero": false}, "axis": null}
            },
            "layer": [
              {"data": {"name": "inset"}, "transform": [{"filter": "datum.sweep === '2' || datum.sweep === '4'"}], "mark": {"type": "line", "color": "#9a9a9a", "strokeWidth": 1.6}, "encoding": {"detail": {"field": "sweep"}}},
              {"data": {"name": "inset"}, "transform": [{"filter": "datum.sweep === '1' || datum.sweep === '3'"}], "mark": {"type": "line", "color": "black", "strokeWidth": 1.6}, "encoding": {"detail": {"field": "sweep"}}},
              {"data": {"name": "insetSegs"}, "mark": {"type": "rule", "color": "black", "strokeWidth": 1.4}, "encoding": {"x2": {"field": "ms2"}, "y2": {"field": "v2"}}},
              {"data": {"name": "insetLabels"}, "transform": [{"filter": "!datum.grey"}], "mark": {"type": "text", "font": "Liberation Serif", "fontSize": 17, "color": "black", "baseline": "middle"}, "encoding": {"text": {"field": "label"}}},
              {"data": {"name": "insetLabels"}, "transform": [{"filter": "datum.grey"}], "mark": {"type": "text", "font": "Liberation Serif", "fontSize": 17, "color": "#9a9a9a", "baseline": "middle"}, "encoding": {"text": {"field": "label"}}}
            ]
          }
        ]
      },
      {
        "bounds": "flush",
        "spacing": 6,
        "hconcat": [
          {
            "width": 188, "height": 137.6,
            "encoding": {
              "x": {"field": "t", "type": "quantitative", "scale": {"domain": [-0.33, 9.51], "nice": false, "zero": false},
                    "axis": {"values": [0,2,4,6,8], "title": null, "labelFontSize": 17, "tickSize": 9, "labelPadding": 10}},
              "y": {"field": "p", "type": "quantitative", "scale": {"domain": [0, -660], "nice": false, "zero": false},
                    "axis": {"values": [0,-200,-400,-600], "title": "IPSC (pA)", "labelFontSize": 17, "titleFontSize": 18, "tickSize": 8, "labelPadding": 7, "titlePadding": 9}}
            },
            "layer": [
              {"data": {"name": "botL"}, "mark": {"type": "point", "shape": "square", "filled": true, "fill": "#555", "stroke": "#1a1a1a", "strokeWidth": 0.8, "size": 32, "opacity": 1}},
              {"data": {"name": "bars"}, "transform": [{"filter": "datum.seg === 'L'"}], "mark": {"type": "rect", "fill": "#555", "stroke": "black", "strokeWidth": 1.2}, "encoding": {"x2": {"field": "t2"}, "y2": {"field": "p2"}}},
              {"data": {"name": "botArrows"}, "transform": [{"filter": "datum.seg === 'L'"}], "mark": {"type": "point", "shape": "M -0.3 -1 L 0.3 -1 L 0.3 0 L 0.82 0 L 0 1 L -0.82 0 L -0.3 0 Z", "filled": true, "fill": "white", "stroke": "black", "strokeWidth": 1.3, "size": 784, "opacity": 1}},
              {"data": {"name": "breaks"}, "mark": {"type": "rule", "color": "black", "strokeWidth": 1.5}, "encoding": {"x2": {"field": "t2"}, "y2": {"field": "p2"}}}
            ]
          },
          {
            "width": 278.8, "height": 137.6,
            "encoding": {
              "x": {"field": "t", "type": "quantitative", "scale": {"domain": [2.4, 46.8], "nice": false, "zero": false},
                    "axis": {"values": [10,20,30,40], "title": "Time (min)", "labelFontSize": 17, "titleFontSize": 18, "tickSize": 9, "labelPadding": 10, "titlePadding": 13, "titleX": 21, "titleAlign": "center"}},
              "y": {"field": "p", "type": "quantitative", "scale": {"domain": [0, -660], "nice": false, "zero": false}, "axis": null}
            },
            "layer": [
              {"data": {"name": "botR"}, "mark": {"type": "point", "shape": "square", "filled": true, "fill": "#555", "stroke": "#1a1a1a", "strokeWidth": 0.8, "size": 32, "opacity": 1}},
              {"data": {"name": "bars"}, "transform": [{"filter": "datum.seg === 'R'"}], "mark": {"type": "rect", "fill": "#555", "stroke": "black", "strokeWidth": 1.2}, "encoding": {"x2": {"field": "t2"}, "y2": {"field": "p2"}}},
              {"data": {"name": "botArrows"}, "transform": [{"filter": "datum.seg === 'R'"}], "mark": {"type": "point", "shape": "M -0.3 -1 L 0.3 -1 L 0.3 0 L 0.82 0 L 0 1 L -0.82 0 L -0.3 0 Z", "filled": true, "fill": "black", "stroke": "black", "strokeWidth": 1, "size": 784, "opacity": 1}},
              {"data": {"values": [{"t": 14.9, "p": -238, "label": "AM251"}]}, "mark": {"type": "text", "font": "Liberation Serif", "fontSize": 17, "color": "black", "baseline": "middle", "align": "center"}, "encoding": {"text": {"field": "label"}}}
            ]
          }
        ]
      }
    ]
  }
]
}
